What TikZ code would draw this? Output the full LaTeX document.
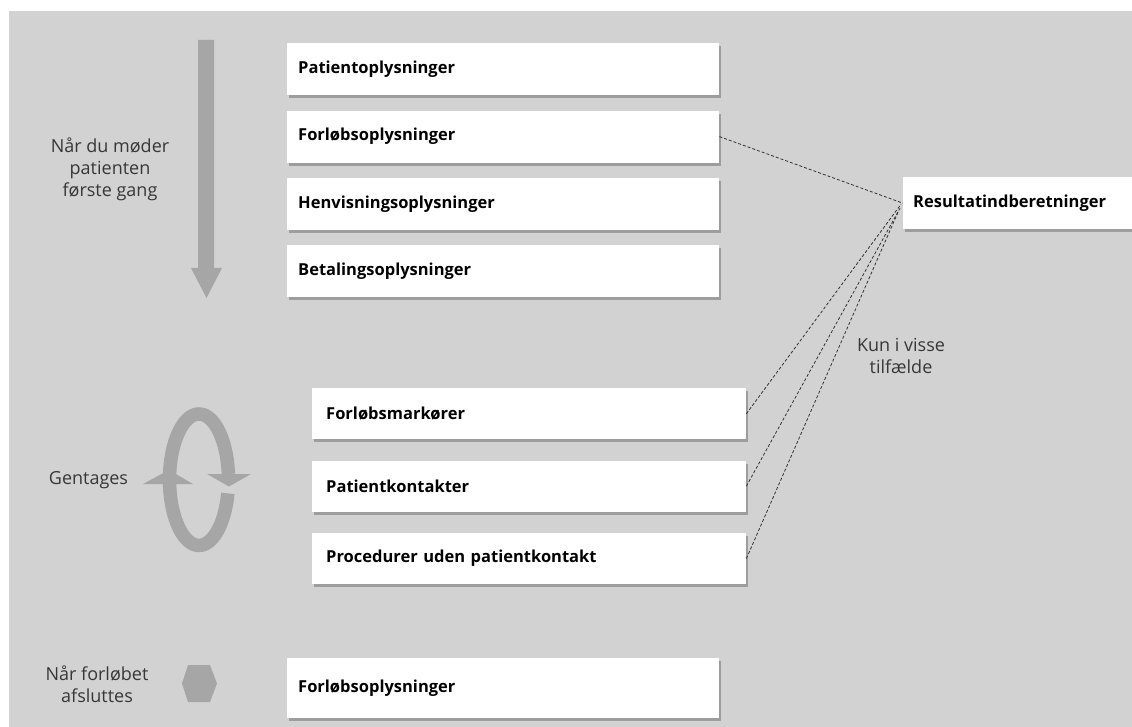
\documentclass[tikz,border=0pt]{standalone}
\usepackage{fontspec}
\setmainfont{Open Sans}
\usepackage{tikz}
\usetikzlibrary{positioning}
\usetikzlibrary{shadows,calc}
\definecolor{bggray}{RGB}{210,210,210}
\definecolor{arrowgray}{RGB}{166,166,166}
\definecolor{labelgray}{RGB}{55,55,55}
\tikzset{
  infobox/.style={fill=white, anchor=north west, minimum height=52pt, text width=410pt,
    inner xsep=11pt, align=left, font=\fontsize{16.5}{19}\selectfont\bfseries,
    drop shadow={shadow xshift=2pt, shadow yshift=-3pt, fill=black!55, opacity=.55}},
  stepbox/.style={infobox, minimum height=51pt, text width=406pt, inner xsep=14pt},
  sidelabel/.style={align=center, text=labelgray, font=\fontsize{18}{22}\selectfont},
  link/.style={dashed, dash pattern=on 3pt off 2pt, black!80, line width=.8pt}
}
\begin{document}
\begin{tikzpicture}[x=1pt,y=-1pt]
\useasboundingbox (0,0) rectangle (1132,727);
\fill[bggray] (9,11) rectangle (1140,735);
% down arrow
\fill[arrowgray] (198,40) -- (214,40) -- (214,268) -- (222,268) -- (206.5,298) -- (191,268) -- (198,268) -- cycle;
% circular arrow
\draw[arrowgray, line width=13.5pt] plot[domain=-355:-12, samples=90, smooth] ({199+29.5*cos(\x)},{479.7-65.7*sin(\x)});
\fill[arrowgray] (143,484) -- (169,470) -- (193,484) -- cycle;
\fill[arrowgray] (207,474) -- (251,474) -- (229,486.5) -- cycle;
% hexagon
\fill[arrowgray] (182,683.5) -- (188,665) -- (210,665) -- (217,683.5) -- (210,702) -- (188,702) -- cycle;

\node[sidelabel] (first) at (110,169) {Når du møder\\patienten\\første gang};
\node[sidelabel] (repeat) at (88.5,480) {Gentages};
\node[sidelabel] (close) at (97,684) {Når forløbet\\afsluttes};

\node[infobox] (pat) at (287,43) {Patientoplysninger};
\node[infobox, below=15pt of pat] (forl) {Forløbsoplysninger};
\node[infobox, below=15pt of forl] (henv) {Henvisningsoplysninger};
\node[infobox, below=15pt of henv] (betal) {Betalingsoplysninger};

\node[stepbox] (mark) at (312,388) {Forløbsmarkører};
\node[stepbox, below=21pt of mark] (kont) {Patientkontakter};
\node[stepbox, below=21pt of kont] (proc) {Procedurer uden patientkontakt};

\node[infobox, minimum height=60pt] (slut) at (287,658) {Forløbsoplysninger};

\node[infobox, text width=220pt, inner xsep=10pt] (res) at (903,177) {Resultatindberetninger};
\node[sidelabel] (note) at (901,356) {Kun i visse\\tilfælde};

\coordinate (r1) at ($(res.west)+(-2,1)$);
\coordinate (r2) at ($(res.west)+(-3,5)$);
\coordinate (r3) at ($(res.west)+(-5,9)$);
\draw[link] (forl.east) -- (res.west);
\draw[link] (mark.east) -- (r1);
\draw[link] (kont.east) -- (r2);
\draw[link] (proc.east) -- (r3);
\end{tikzpicture}
\end{document}
